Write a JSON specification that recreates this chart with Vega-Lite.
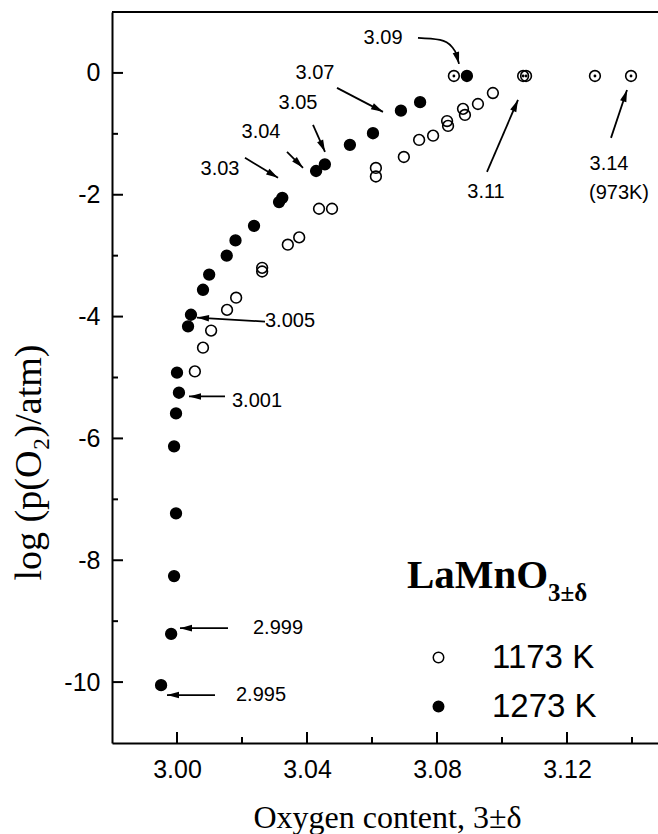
{
  "$schema": "https://vega.github.io/schema/vega-lite/v6.json",
  "width": 546,
  "height": 731,
  "autosize": {"type": "none"},
  "padding": {"left": 112, "top": 12, "right": 0, "bottom": 91},
  "background": "white",
  "config": {"view": {"stroke": null}, "font": "Liberation Sans"},
  "datasets": {
    "pts": [
      {"x": 3.0055, "y": -4.90, "T": "1173 K", "dot": false},
      {"x": 3.0080, "y": -4.51, "T": "1173 K", "dot": false},
      {"x": 3.0105, "y": -4.23, "T": "1173 K", "dot": false},
      {"x": 3.0154, "y": -3.89, "T": "1173 K", "dot": false},
      {"x": 3.0182, "y": -3.69, "T": "1173 K", "dot": false},
      {"x": 3.0262, "y": -3.20, "T": "1173 K", "dot": false},
      {"x": 3.0262, "y": -3.26, "T": "1173 K", "dot": false},
      {"x": 3.0341, "y": -2.82, "T": "1173 K", "dot": false},
      {"x": 3.0376, "y": -2.70, "T": "1173 K", "dot": false},
      {"x": 3.0437, "y": -2.23, "T": "1173 K", "dot": false},
      {"x": 3.0477, "y": -2.23, "T": "1173 K", "dot": false},
      {"x": 3.0612, "y": -1.56, "T": "1173 K", "dot": false},
      {"x": 3.0612, "y": -1.70, "T": "1173 K", "dot": false},
      {"x": 3.0698, "y": -1.38, "T": "1173 K", "dot": false},
      {"x": 3.0745, "y": -1.10, "T": "1173 K", "dot": false},
      {"x": 3.0788, "y": -1.03, "T": "1173 K", "dot": false},
      {"x": 3.0831, "y": -0.79, "T": "1173 K", "dot": false},
      {"x": 3.0834, "y": -0.87, "T": "1173 K", "dot": false},
      {"x": 3.0880, "y": -0.59, "T": "1173 K", "dot": false},
      {"x": 3.0886, "y": -0.69, "T": "1173 K", "dot": false},
      {"x": 3.0926, "y": -0.51, "T": "1173 K", "dot": false},
      {"x": 3.0972, "y": -0.33, "T": "1173 K", "dot": false},
      {"x": 3.0852, "y": -0.05, "T": "1173 K", "dot": true},
      {"x": 3.1065, "y": -0.05, "T": "1173 K", "dot": true},
      {"x": 3.1074, "y": -0.05, "T": "1173 K", "dot": true},
      {"x": 3.1286, "y": -0.05, "T": "1173 K", "dot": true},
      {"x": 3.1397, "y": -0.05, "T": "1173 K", "dot": true},
      {"x": 2.9951, "y": -10.05, "T": "1273 K", "dot": false},
      {"x": 2.9982, "y": -9.21, "T": "1273 K", "dot": false},
      {"x": 2.9991, "y": -8.26, "T": "1273 K", "dot": false},
      {"x": 2.9997, "y": -7.23, "T": "1273 K", "dot": false},
      {"x": 2.9991, "y": -6.13, "T": "1273 K", "dot": false},
      {"x": 2.9997, "y": -5.59, "T": "1273 K", "dot": false},
      {"x": 3.0006, "y": -5.25, "T": "1273 K", "dot": false},
      {"x": 3.0000, "y": -4.92, "T": "1273 K", "dot": false},
      {"x": 3.0034, "y": -4.16, "T": "1273 K", "dot": false},
      {"x": 3.0043, "y": -3.97, "T": "1273 K", "dot": false},
      {"x": 3.0080, "y": -3.56, "T": "1273 K", "dot": false},
      {"x": 3.0099, "y": -3.31, "T": "1273 K", "dot": false},
      {"x": 3.0153, "y": -3.00, "T": "1273 K", "dot": false},
      {"x": 3.0180, "y": -2.75, "T": "1273 K", "dot": false},
      {"x": 3.0237, "y": -2.51, "T": "1273 K", "dot": false},
      {"x": 3.0314, "y": -2.12, "T": "1273 K", "dot": false},
      {"x": 3.0324, "y": -2.05, "T": "1273 K", "dot": false},
      {"x": 3.0428, "y": -1.61, "T": "1273 K", "dot": false},
      {"x": 3.0455, "y": -1.50, "T": "1273 K", "dot": false},
      {"x": 3.0532, "y": -1.18, "T": "1273 K", "dot": false},
      {"x": 3.0603, "y": -0.99, "T": "1273 K", "dot": false},
      {"x": 3.0689, "y": -0.62, "T": "1273 K", "dot": false},
      {"x": 3.0748, "y": -0.48, "T": "1273 K", "dot": false},
      {"x": 3.0892, "y": -0.05, "T": "1273 K", "dot": false}
    ],
    "tickmarks": [
      {"x": 2.98, "y": 1, "x2": 3.148, "y2": 1},
      {"x": 3.00, "y": -11, "x2": 3.00, "y2": -10.82},
      {"x": 3.04, "y": -11, "x2": 3.04, "y2": -10.82},
      {"x": 3.08, "y": -11, "x2": 3.08, "y2": -10.82},
      {"x": 3.12, "y": -11, "x2": 3.12, "y2": -10.82},
      {"x": 3.02, "y": -11, "x2": 3.02, "y2": -10.9},
      {"x": 3.06, "y": -11, "x2": 3.06, "y2": -10.9},
      {"x": 3.10, "y": -11, "x2": 3.10, "y2": -10.9},
      {"x": 3.14, "y": -11, "x2": 3.14, "y2": -10.9},
      {"x": 2.98, "y": -10, "x2": 2.98338, "y2": -10},
      {"x": 2.98, "y": -8, "x2": 2.98338, "y2": -8},
      {"x": 2.98, "y": -6, "x2": 2.98338, "y2": -6},
      {"x": 2.98, "y": -4, "x2": 2.98338, "y2": -4},
      {"x": 2.98, "y": -2, "x2": 2.98338, "y2": -2},
      {"x": 2.98, "y": 0, "x2": 2.98338, "y2": 0},
      {"x": 2.98, "y": -9, "x2": 2.98185, "y2": -9},
      {"x": 2.98, "y": -7, "x2": 2.98185, "y2": -7},
      {"x": 2.98, "y": -5, "x2": 2.98185, "y2": -5},
      {"x": 2.98, "y": -3, "x2": 2.98185, "y2": -3},
      {"x": 2.98, "y": -1, "x2": 2.98185, "y2": -1}
    ],
    "arrows": [
      {"x": 3.04923, "y": -0.246, "x2": 3.06338, "y2": -0.639, "angle": 117.6},
      {"x": 3.04185, "y": -0.852, "x2": 3.04554, "y2": -1.295, "angle": 156},
      {"x": 3.03385, "y": -1.295, "x2": 3.03877, "y2": -1.557, "angle": 135},
      {"x": 3.02092, "y": -1.393, "x2": 3.03108, "y2": -1.721, "angle": 121},
      {"x": 3.02708, "y": -4.082, "x2": 3.00615, "y2": -4.016, "angle": 273.4},
      {"x": 3.01477, "y": -5.311, "x2": 3.00369, "y2": -5.311, "angle": 270},
      {"x": 3.01569, "y": -9.115, "x2": 3.00092, "y2": -9.115, "angle": 270},
      {"x": 3.01169, "y": -10.213, "x2": 2.99692, "y2": -10.213, "angle": 270},
      {"x": 3.09538, "y": -1.623, "x2": 3.10492, "y2": -0.443, "angle": 23.3},
      {"x": 3.13354, "y": -1.066, "x2": 3.13846, "y2": -0.279, "angle": 18.4}
    ],
    "curve": [
      {"x": 3.07415, "y": 0.574, "k": 1},
      {"x": 3.08092, "y": 0.541, "k": 2},
      {"x": 3.08462, "y": 0.426, "k": 3},
      {"x": 3.08615, "y": 0.279, "k": 4},
      {"x": 3.08677, "y": 0.148, "k": 5}
    ],
    "curvehead": [
      {"x": 3.08677, "y": 0.148, "angle": 165}
    ],
    "labels": [
      {"x": 3.0634, "y": 0.574, "text": "3.09"},
      {"x": 3.04246, "y": 0.0, "text": "3.07"},
      {"x": 3.03723, "y": -0.492, "text": "3.05"},
      {"x": 3.02585, "y": -0.967, "text": "3.04"},
      {"x": 3.01323, "y": -1.574, "text": "3.03"},
      {"x": 3.03477, "y": -4.066, "text": "3.005"},
      {"x": 3.02462, "y": -5.393, "text": "3.001"},
      {"x": 3.03108, "y": -9.115, "text": "2.999"},
      {"x": 3.02585, "y": -10.213, "text": "2.995"},
      {"x": 3.09508, "y": -1.951, "text": "3.11"},
      {"x": 3.13292, "y": -1.492, "text": "3.14"},
      {"x": 3.136, "y": -1.967, "text": "(973K)"}
    ],
    "formula": [{"x": 3.07077, "y": -8.459, "text": "LaMnO"}],
    "formulasub": [{"x": 3.11415, "y": -8.672, "text": "3±δ"}]
  },
  "layer": [
    {
      "data": {"name": "pts"},
      "mark": {"type": "point", "shape": "circle", "filled": true, "stroke": "black", "strokeWidth": 1.6, "size": 115, "opacity": 1, "clip": false},
      "encoding": {
        "x": {
          "field": "x", "type": "quantitative",
          "scale": {"domain": [2.98, 3.148], "nice": false, "zero": false},
          "axis": {
            "values": [3.0, 3.04, 3.08, 3.12],
            "format": ".2f",
            "ticks": false,
            "domainColor": "black", "domainWidth": 2,
            "labelFont": "Liberation Sans", "labelFontSize": 25, "labelColor": "black",
            "labelPadding": 14, "labelFlush": false, "labelOverlap": false,
            "grid": false,
            "title": "Oxygen content, 3±δ",
            "titleFont": "Liberation Serif", "titleFontSize": 32, "titleFontWeight": "normal", "titleColor": "black",
            "titleX": 275, "titleY": 84, "titleBaseline": "alphabetic", "titleAlign": "center"
          }
        },
        "y": {
          "field": "y", "type": "quantitative",
          "scale": {"domain": [-11, 1], "nice": false, "zero": false},
          "axis": {
            "values": [-10, -8, -6, -4, -2, 0],
            "labelExpr": "'' + datum.value",
            "ticks": false,
            "domainColor": "black", "domainWidth": 2,
            "labelFont": "Liberation Sans", "labelFontSize": 25, "labelColor": "black",
            "labelPadding": 12, "labelFlush": false, "labelOverlap": false,
            "grid": false,
            "title": "log (p(O₂)/atm)",
            "titleFont": "Liberation Serif", "titleFontSize": 38, "titleFontWeight": "normal", "titleColor": "black",
            "titleX": -72, "titleY": 450, "titleBaseline": "alphabetic", "titleAlign": "center", "titleAngle": -90
          }
        },
        "fill": {
          "field": "T", "type": "nominal",
          "scale": {"domain": ["1173 K", "1273 K"], "range": ["transparent", "black"]},
          "legend": {
            "title": null, "orient": "none", "legendX": 310, "legendY": 629, "padding": 0,
            "labelFont": "Liberation Sans", "labelFontSize": 33, "labelColor": "black", "labelLimit": 0,
            "symbolType": "circle", "symbolSize": 110, "symbolStrokeColor": "black", "symbolStrokeWidth": 1.5,
            "labelOffset": 37, "rowPadding": 15
          }
        }
      }
    },
    {
      "data": {"name": "pts"},
      "transform": [{"filter": "datum.dot"}],
      "mark": {"type": "point", "shape": "circle", "filled": true, "fill": "black", "strokeWidth": 0, "size": 8, "opacity": 1},
      "encoding": {
        "x": {"field": "x", "type": "quantitative"},
        "y": {"field": "y", "type": "quantitative"}
      }
    },
    {
      "data": {"name": "tickmarks"},
      "mark": {"type": "rule", "stroke": "black", "strokeWidth": 2, "clip": false},
      "encoding": {
        "x": {"field": "x", "type": "quantitative"},
        "y": {"field": "y", "type": "quantitative"},
        "x2": {"field": "x2"},
        "y2": {"field": "y2"}
      }
    },
    {
      "data": {"name": "arrows"},
      "mark": {"type": "rule", "stroke": "black", "strokeWidth": 1.8},
      "encoding": {
        "x": {"field": "x", "type": "quantitative"},
        "y": {"field": "y", "type": "quantitative"},
        "x2": {"field": "x2"},
        "y2": {"field": "y2"}
      }
    },
    {
      "data": {"name": "arrows"},
      "mark": {"type": "point", "shape": "M0,0L1.1,4L-1.1,4Z", "size": 36, "filled": true, "fill": "black", "strokeWidth": 0, "opacity": 1},
      "encoding": {
        "x": {"field": "x2", "type": "quantitative"},
        "y": {"field": "y2", "type": "quantitative"},
        "angle": {"field": "angle", "type": "quantitative", "scale": null}
      }
    },
    {
      "data": {"name": "curve"},
      "mark": {"type": "line", "stroke": "black", "strokeWidth": 1.8, "interpolate": "monotone"},
      "encoding": {
        "x": {"field": "x", "type": "quantitative"},
        "y": {"field": "y", "type": "quantitative"},
        "order": {"field": "k", "type": "quantitative"}
      }
    },
    {
      "data": {"name": "curvehead"},
      "mark": {"type": "point", "shape": "M0,0L1.1,4L-1.1,4Z", "size": 36, "filled": true, "fill": "black", "strokeWidth": 0, "opacity": 1},
      "encoding": {
        "x": {"field": "x", "type": "quantitative"},
        "y": {"field": "y", "type": "quantitative"},
        "angle": {"field": "angle", "type": "quantitative", "scale": null}
      }
    },
    {
      "data": {"name": "labels"},
      "mark": {"type": "text", "font": "Liberation Sans", "fontSize": 20, "align": "center", "baseline": "middle", "fill": "black"},
      "encoding": {
        "x": {"field": "x", "type": "quantitative"},
        "y": {"field": "y", "type": "quantitative"},
        "text": {"field": "text"}
      }
    },
    {
      "data": {"name": "formula"},
      "mark": {"type": "text", "font": "Liberation Serif", "fontSize": 41, "fontWeight": "bold", "align": "left", "baseline": "alphabetic", "fill": "black"},
      "encoding": {
        "x": {"field": "x", "type": "quantitative"},
        "y": {"field": "y", "type": "quantitative"},
        "text": {"field": "text"}
      }
    },
    {
      "data": {"name": "formulasub"},
      "mark": {"type": "text", "font": "Liberation Serif", "fontSize": 25, "fontWeight": "bold", "align": "left", "baseline": "alphabetic", "fill": "black"},
      "encoding": {
        "x": {"field": "x", "type": "quantitative"},
        "y": {"field": "y", "type": "quantitative"},
        "text": {"field": "text"}
      }
    }
  ]
}
